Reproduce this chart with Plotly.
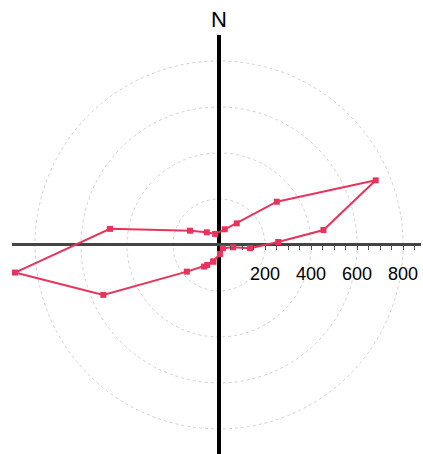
import plotly.graph_objects as go

# Hodograph points (East, North) in the same units as the rings
east = [-25, 4, 17, 61, 135, 257, 454, 681, 251, 77, 25, -17, -53, -126, -474,
        -887, -503, -140, -65, -51, -25]
north = [-72, -39, -14, -10, -14, 13, 65, 281, 188, 94, 68, 48, 55, 62, 70,
         -120, -217, -116, -94, -87, -72]

ring_radii = [200, 400, 600, 800]
tick_values = list(range(50, 900, 50))
tick_labels = [str(v) if v in (200, 400, 600, 800) else "" for v in tick_values]

x_range = [-900, 878]
y_range = [-909, 913]

fig = go.Figure()

fig.add_trace(go.Scatter(
    x=east, y=north, mode="lines+markers",
    line=dict(color="#e8345c", width=2),
    marker=dict(symbol="square", size=6, color="#e8345c"),
    showlegend=False, hoverinfo="skip",
))

shapes = []
for r in ring_radii:
    shapes.append(dict(type="circle", xref="x", yref="y", x0=-r, x1=r, y0=-r, y1=r,
                       line=dict(color="#d2d2d2", width=1, dash="dot"), layer="below"))

zero_pos = (0 - y_range[0]) / (y_range[1] - y_range[0])

fig.update_layout(
    width=423, height=454,
    margin=dict(l=12, r=2, t=35, b=0, autoexpand=False),
    paper_bgcolor="white", plot_bgcolor="white",
    font=dict(family="Liberation Sans, Arial", color="black"),
    shapes=shapes,
    xaxis=dict(range=x_range, showgrid=False, zeroline=True,
               zerolinecolor="black", zerolinewidth=4,
               anchor="free", position=zero_pos, automargin=False,
               showline=False, ticks="outside", ticklen=4, tickwidth=1,
               tickcolor="#555", tickvals=tick_values, ticktext=tick_labels,
               tickfont=dict(size=18, color="black"), ticklabelstandoff=8,
               fixedrange=True),
    yaxis=dict(range=y_range, showgrid=False, zeroline=True,
               zerolinecolor="#444", zerolinewidth=3, automargin=False,
               showticklabels=False, ticks="", showline=False, fixedrange=True),
    annotations=[dict(text="N", x=0, xref="x", y=1, yref="paper", yanchor="bottom",
                      yshift=1, showarrow=False, font=dict(size=22, color="black"))],
)

fig.write_html(
    "out.html",
    config={"displayModeBar": False, "staticPlot": True},
    post_script="document.body.style.margin='0';document.body.style.overflow='hidden';",
)
